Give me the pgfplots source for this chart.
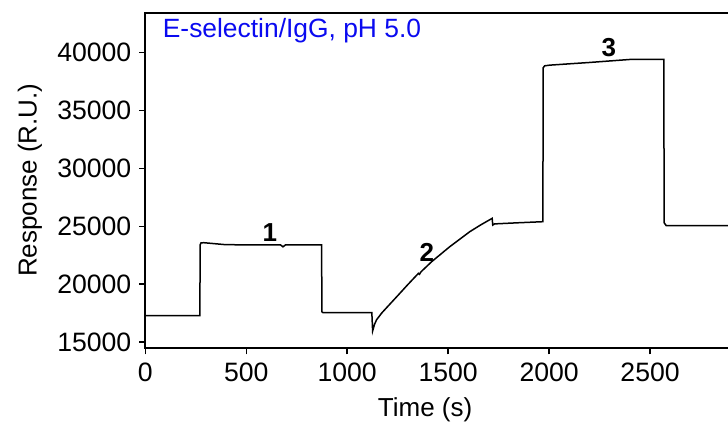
\documentclass[border=0pt]{standalone}
\usepackage{fontspec}
\setmainfont{Liberation Sans}
\usepackage{pgfplots}
\pgfplotsset{compat=1.18}
\definecolor{titleblue}{RGB}{10,10,240}
\begin{document}
\begin{tikzpicture}[font=\fontsize{13}{15}\selectfont]
\begin{axis}[
  at={(72.65pt,41.85pt)}, anchor=south west,
  scale only axis, width=302.85pt, height=167.5pt,
  xmin=0, xmax=3000, ymin=14450, ymax=43400,
  xtick={0,500,1000,1500,2000,2500},
  ytick={15000,20000,25000,30000,35000,40000},
  scaled ticks=false,
  tick pos=left, tick align=outside,
  major tick length=3pt,
  axis line style={line width=0.8pt},
  every tick/.style={black, line width=0.7pt},
  /pgf/number format/assume math mode=true,
  /pgf/number format/set thousands separator={},
  tick label style={font=\fontsize{13.3}{15}\selectfont},
  yticklabel style={xshift=-0.5pt},
  xticklabel style={yshift=-1pt},
  xlabel={Time (s)}, ylabel={Response (R.U.)},
  xlabel style={at={(axis description cs:0.462,-0.185)}, anchor=center},
  ylabel style={at={(axis description cs:-0.1904,0.502)}, anchor=center},
  clip=true,
]
\addplot[black, line width=0.75pt] coordinates {
(0,17270) (270,17270) (272,23400) (276,23560) (290,23575) (400,23400)
(600,23390) (670,23380) (682,23220) (694,23380) (873,23380)
(875,17600) (880,17530) (1122,17530) (1126,15950)
(1135,16500) (1145,16900) (1170,17480) (1200,18050) (1245,18900)
(1300,19950) (1353,20930) (1358,20850) (1365,21050) (1418,21930)
(1508,23230) (1607,24525) (1660,25100) (1718,25680) (1721,25100)
(1730,25200) (1850,25300) (1969,25390) (1971,38700) (1978,38860)
(2004,38920) (2200,39150) (2400,39410) (2568,39410) (2570,25300)
(2580,25050) (3000,25060)
};
\node[anchor=west, inner sep=0pt, text=titleblue, font=\fontsize{13.2}{15}\selectfont] at (axis cs:85,41940) {E-selectin/IgG, pH 5.0};
\node[font=\bfseries\fontsize{13}{15}\selectfont] at (axis cs:617,24410) {1};
\node[font=\bfseries\fontsize{13}{15}\selectfont] at (axis cs:1394,22770) {2};
\node[font=\bfseries\fontsize{13}{15}\selectfont] at (axis cs:2296,40475) {3};
\end{axis}
\pgfresetboundingbox
\useasboundingbox (0,0) rectangle (364pt,216pt);
\end{tikzpicture}
\end{document}
